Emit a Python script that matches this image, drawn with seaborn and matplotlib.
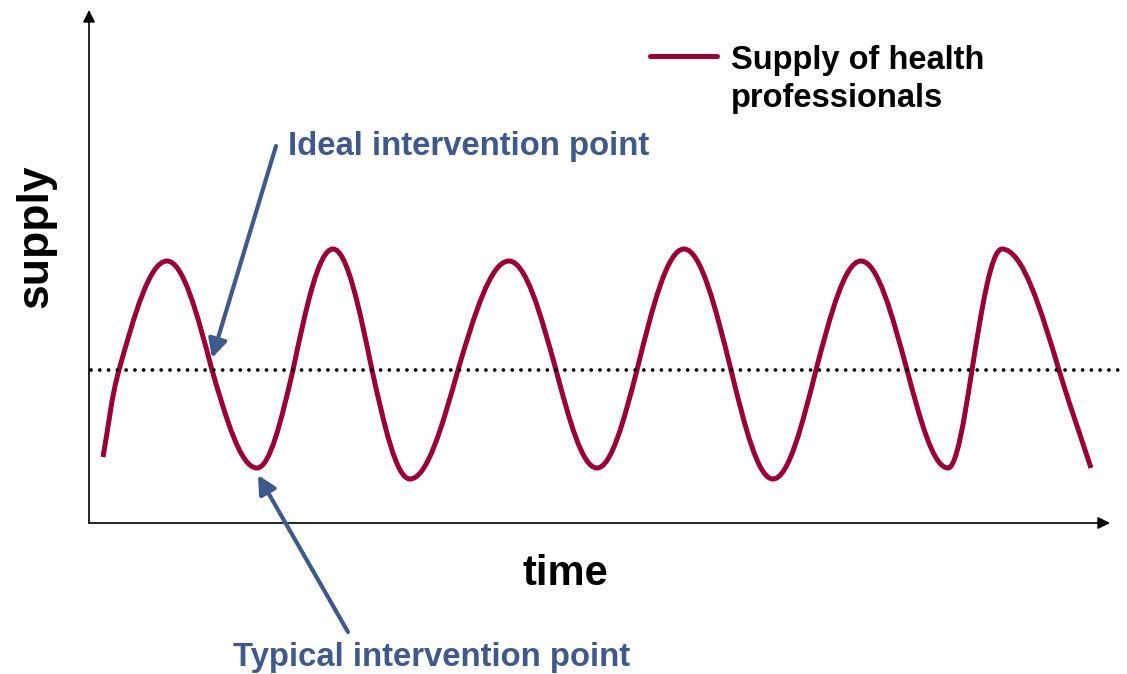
import numpy as np
import pandas as pd
import seaborn as sns
import matplotlib
matplotlib.use("Agg")
import matplotlib.pyplot as plt
from matplotlib.path import Path
from matplotlib.patches import PathPatch
from matplotlib.lines import Line2D

# ---------------- data ----------------
# key points of the supply curve: ends, threshold crossings, peaks and troughs
time_points = [14, 30, 78, 123, 168, 204, 244, 283, 321, 369, 420, 467, 508,
               548, 595, 642, 684, 727, 772, 818, 859, 883, 913, 970, 1002]
supply_values = [66, 153, 262, 153, 55, 153, 274, 153, 44, 153, 262, 153, 55,
                 153, 274, 153, 44, 153, 262, 153, 55, 153, 274, 153, 55]
threshold = 153
threshold_span = [2, 1033]
series_label = "Supply of health\nprofessionals"
x_label = "time"
y_label = "supply"
ideal_label = "Ideal intervention point"
typical_label = "Typical intervention point"
ideal_target = (123, 165)
typical_target = (169, 48)

# ---------------- style ----------------
sns.set_style("white")
plt.rcParams["font.family"] = ["Liberation Sans", "DejaVu Sans"]

W, H = 1127, 674
fig = plt.figure(figsize=(W / 100, H / 100), dpi=100)
ax = fig.add_axes([89 / W, (H - 523) / H, (W - 89) / W, 518 / H])
ax.set_xlim(0, W - 89)
ax.set_ylim(0, 518)
for s in ax.spines.values():
    s.set_visible(False)
ax.set_xticks([])
ax.set_yticks([])

curve_color = "#990033"
note_color = "#3F5A8A"

def px(x, y):
    """picture pixel -> data coordinates of this axes"""
    return (x - 89, 523 - y)

# threshold (dotted)
sns.lineplot(x=threshold_span, y=[threshold, threshold], ax=ax, color="black",
             lw=2.7, linestyle=(0, (0.01, 2.33)), dash_capstyle="round",
             legend=False)

# smooth curve through the key points (cubic Bezier segments)
pts = list(zip(time_points, supply_values))
n = len(pts)
kind = []
for i, (x, y) in enumerate(pts):
    if i == 0 or i == n - 1:
        kind.append("end")
    elif y == threshold:
        kind.append("cross")
    else:
        kind.append("ext")

def controls(i):
    A, B = np.array(pts[i], float), np.array(pts[i + 1], float)
    d = B - A
    if kind[i] == "cross" and kind[i + 1] == "ext":
        return A + np.array([0.326 * d[0], 0.512 * d[1]]), B - np.array([0.36 * d[0], 0])
    if kind[i] == "ext" and kind[i + 1] == "cross":
        return A + np.array([0.36 * d[0], 0]), B - np.array([0.326 * d[0], 0.512 * d[1]])
    return A + d / 3, B - d / 3

verts = [pts[0]]
codes = [Path.MOVETO]
for i in range(n - 1):
    c1, c2 = controls(i)
    if kind[i] == "end":  # keep tangent continuity into the next segment
        v = controls(i + 1)[0] - np.array(pts[i + 1])
        L = np.hypot(*(np.array(pts[i + 1]) - np.array(pts[i]))) / 3
        c2 = np.array(pts[i + 1]) - v / np.hypot(*v) * L
    if kind[i + 1] == "end":
        v = np.array(pts[i]) - controls(i - 1)[1]
        L = np.hypot(*(np.array(pts[i + 1]) - np.array(pts[i]))) / 3
        c1 = np.array(pts[i]) + v / np.hypot(*v) * L
    verts += [tuple(c1), tuple(c2), pts[i + 1]]
    codes += [Path.CURVE4] * 3
ax.add_patch(PathPatch(Path(verts, codes), facecolor="none", edgecolor=curve_color,
                       lw=3.6, capstyle="butt", joinstyle="round"))

# axes with arrows
ax.annotate("", xy=(0, 513), xytext=(0, 0), annotation_clip=False,
            arrowprops=dict(arrowstyle="-|>", color="black", lw=1.2,
                            mutation_scale=18, shrinkA=0, shrinkB=0))
ax.annotate("", xy=(1021, 0), xytext=(0, 0), annotation_clip=False,
            arrowprops=dict(arrowstyle="-|>", color="black", lw=1.2,
                            mutation_scale=18, shrinkA=0, shrinkB=0))

# axis labels
fig.text(565 / W, 1 - 585 / H, x_label, ha="center", va="baseline",
         fontsize=30, fontweight="bold", color="black")
fig.text(36 / W, 1 - 236 / H, y_label, ha="center", va="center", rotation=90,
         fontsize=32, fontweight="bold", color="black")

# annotations: text + separate arrow
arrow_kw = dict(arrowstyle="-|>,head_length=0.55,head_width=0.28",
                color=note_color, lw=3, mutation_scale=20, shrinkA=0, shrinkB=0)
ax.text(*px(288, 155), ideal_label, ha="left", va="baseline", fontsize=23.7,
        fontweight="bold", color=note_color, clip_on=False)
ax.annotate("", xy=ideal_target, xytext=px(276, 146), annotation_clip=False,
            arrowprops=arrow_kw)
ax.text(*px(233, 666), typical_label, ha="left", va="baseline", fontsize=23.7,
        fontweight="bold", color=note_color, clip_on=False)
ax.annotate("", xy=typical_target, xytext=px(348, 632), annotation_clip=False,
            arrowprops=arrow_kw)

# legend
handle = Line2D([], [], color=curve_color, lw=3.6)
leg = ax.legend([handle], [series_label], loc="upper left",
                bbox_to_anchor=(650 / W, 1 - 45 / H), bbox_transform=fig.transFigure,
                frameon=False, borderpad=0, borderaxespad=0,
                handlelength=2.05, handletextpad=0.43,
                prop=dict(family="Liberation Sans", weight="bold", size=23.5))
for t in leg.get_texts():
    t.set_color("black")
    t.set_linespacing(1.28)
for col in leg._legend_handle_box.get_children():
    for hp in col.get_children():
        hp.align = "top"

fig.savefig("out.png", dpi=100)
